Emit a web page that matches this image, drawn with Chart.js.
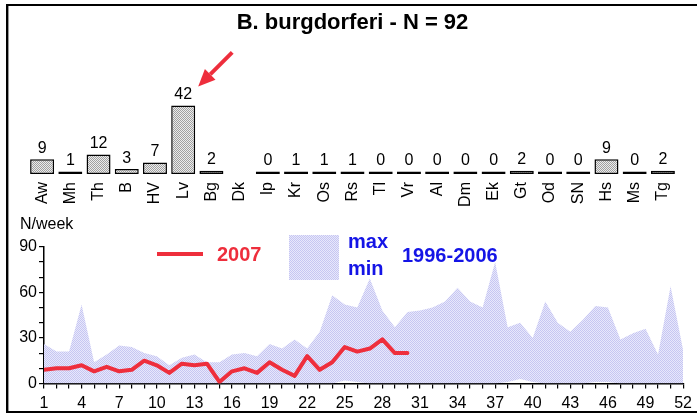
<!DOCTYPE html>
<html>
<head>
<meta charset="utf-8">
<script src="https://cdn.jsdelivr.net/npm/chart.js@4"></script>
<style>
  body { margin: 0; background: #fff; }
  #wrap { position: relative; width: 697px; height: 414px; overflow: hidden; }
  #frame {
    position: absolute; left: 6px; top: 4px; width: 700px; height: 405px;
    border-top: 2px solid #000; border-bottom: 2px solid #000;
    border-left: 2px solid #000; box-shadow: 1px 0 0 #999 inset;
  }
  canvas { position: absolute; left: 0; }
</style>
</head>
<body>
<div id="wrap">
  <div id="frame"></div>
  <canvas id="stationChart" width="697" height="210" style="top:0"></canvas>
  <canvas id="weekChart" width="697" height="204" style="top:210px"></canvas>
</div>
<script>
// cases per sampling site (Dk not sampled)
const stations = ['Aw','Mh','Th','B','HV','Lv','Bg','Dk','Ip','Kr','Os','Rs','Tl','Vr','Al','Dm','Ek','Gt','Od','SN','Hs','Ms','Tg'];
const cases = [9, 1, 12, 3, 7, 42, 2, null, 0, 1, 1, 1, 0, 0, 0, 0, 0, 2, 0, 0, 9, 0, 2];

// weekly counts
const weeks = [1,2,3,4,5,6,7,8,9,10,11,12,13,14,15,16,17,18,19,20,21,22,23,24,25,26,
               27,28,29,30,31,32,33,34,35,36,37,38,39,40,41,42,43,44,45,46,47,48,49,50,51,52];
const weekly2007 = [9,10,10,12,8,11,8,9,15,12,7,13,12,13,1,8,10,7,14,9,5,18,9,14,24,21,23,29,20,20];
const bandMax = [26,21,21,52,14,19,25,24,20,18,12,17,19,14,14,19,20,18,26,23,29,23,34,58,52,50,
                 69,48,37,47,48,50,54,63,54,50,80,37,40,30,54,40,34,42,51,50,29,33,36,19,64,22];
const bandMin = [0,0,0,0,0,0,0,0,0,0,0,0,0,0,0,0,0,0,0,0,0,0,0,0,2,1,
                 0,0,0,0,0,0,0,0,0,0,0,1,3,1,0,0,0,0,1,1,0,0,0,0,0,0];

const red = '#ee2e3c';
const blue = '#1414e6';
Chart.defaults.font.family = '"Liberation Sans", Arial, Helvetica, sans-serif';
Chart.defaults.color = '#000';

// fine two-tone stipple used for the fills
function stipple(light, dark) {
  const c = document.createElement('canvas');
  c.width = c.height = 2;
  const g = c.getContext('2d');
  g.fillStyle = light; g.fillRect(0, 0, 2, 2);
  g.fillStyle = dark; g.fillRect(0, 0, 1, 1); g.fillRect(1, 1, 1, 1);
  return g.createPattern(c, 'repeat');
}
const greyFill = stipple('#ececec', '#a0a0a0');
const lavFill = stipple('#e8e8fb', '#c6c6f2');

const total = cases.reduce((s, v) => s + (v || 0), 0);

const barLabels = {
  id: 'barLabels',
  afterDatasetsDraw(chart) {
    const ctx = chart.ctx;
    const meta = chart.getDatasetMeta(0);
    ctx.save();
    ctx.font = '16px "Liberation Sans", Arial, sans-serif';
    ctx.fillStyle = '#000';
    ctx.textAlign = 'center';
    ctx.textBaseline = 'bottom';
    meta.data.forEach((bar, i) => {
      if (cases[i] == null) return;
      ctx.fillText(String(cases[i]), bar.x, Math.min(bar.y, bar.base) - 3);
    });

    // arrow pointing at the largest bar
    const top = meta.data[cases.indexOf(Math.max(...cases))];
    const tipX = top.x + 15, tipY = top.y - 19;
    const tailX = top.x + 49, tailY = top.y - 53;
    const ang = Math.atan2(tipY - tailY, tipX - tailX);
    const headLen = 17, headHalf = 7.5;
    const bx = tipX - headLen * Math.cos(ang), by = tipY - headLen * Math.sin(ang);
    ctx.strokeStyle = red;
    ctx.fillStyle = red;
    ctx.lineWidth = 4;
    ctx.beginPath();
    ctx.moveTo(tailX, tailY);
    ctx.lineTo(bx, by);
    ctx.stroke();
    ctx.beginPath();
    ctx.moveTo(tipX, tipY);
    ctx.lineTo(bx + headHalf * Math.sin(ang), by - headHalf * Math.cos(ang));
    ctx.lineTo(bx - headHalf * Math.sin(ang), by + headHalf * Math.cos(ang));
    ctx.closePath();
    ctx.fill();
    ctx.restore();
  }
};

new Chart(document.getElementById('stationChart'), {
  type: 'bar',
  data: {
    labels: stations,
    datasets: [{
      data: cases,
      backgroundColor: greyFill,
      borderColor: '#000',
      borderWidth: 1.5,
      borderSkipped: false,
      minBarLength: 2.5,
      barPercentage: 0.85,
      categoryPercentage: 1
    }]
  },
  options: {
    responsive: false,
    animation: false,
    layout: { padding: { left: 28, right: 20, top: 0, bottom: 0 } },
    plugins: {
      legend: { display: false },
      tooltip: { enabled: false },
      title: {
        display: true,
        text: 'B. burgdorferi - N = ' + total,
        color: '#000',
        font: { size: 22, weight: 'bold' },
        padding: { top: 10, bottom: 7 }
      }
    },
    scales: {
      x: {
        grid: { display: false },
        border: { display: false },
        ticks: { minRotation: 90, maxRotation: 90, autoSkip: false, padding: 0, font: { size: 16 } },
        afterFit(s) { s.height = 36; }
      },
      y: { display: false, min: 0, max: 80 }
    }
  },
  plugins: [barLabels]
});

const weekLegend = {
  id: 'weekLegend',
  afterDraw(chart) {
    const ctx = chart.ctx;
    ctx.save();
    ctx.textBaseline = 'middle';
    ctx.font = '16px "Liberation Sans", Arial, sans-serif';
    ctx.fillStyle = '#000';
    ctx.fillText('N/week', 20, 15);

    ctx.strokeStyle = red;
    ctx.lineWidth = 4;
    ctx.beginPath();
    ctx.moveTo(157, 44);
    ctx.lineTo(203, 44);
    ctx.stroke();
    ctx.font = 'bold 20px "Liberation Sans", Arial, sans-serif';
    ctx.fillStyle = red;
    ctx.fillText('2007', 217, 45);

    ctx.fillStyle = lavFill;
    ctx.fillRect(289, 25, 50, 45);
    ctx.fillStyle = blue;
    ctx.fillText('max', 348, 32);
    ctx.fillText('min', 348, 59);
    ctx.fillText('1996-2006', 402, 46);
    ctx.restore();
  }
};

const pts = (ys) => ys.map((y, i) => ({ x: weeks[i], y: y }));

new Chart(document.getElementById('weekChart'), {
  type: 'line',
  data: {
    datasets: [
      { label: '2007', data: pts(weekly2007), borderColor: red, borderWidth: 4,
        pointRadius: 0, fill: false, tension: 0, borderJoinStyle: 'round', borderCapStyle: 'round' },
      { label: 'min', data: pts(bandMin), borderWidth: 0, pointRadius: 0, fill: false },
      { label: 'max', data: pts(bandMax), borderWidth: 0, pointRadius: 0, fill: 1,
        backgroundColor: lavFill }
    ]
  },
  options: {
    responsive: false,
    animation: false,
    layout: { padding: { left: 0, right: 11, top: 36.7, bottom: 0 } },
    plugins: { legend: { display: false }, tooltip: { enabled: false } },
    scales: {
      x: {
        type: 'linear', min: 1, max: 52,
        grid: { drawOnChartArea: false, tickLength: 5, color: '#000', lineWidth: 1.2 },
        border: { color: '#000', width: 1.5 },
        ticks: {
          stepSize: 1, autoSkip: false, maxRotation: 0, padding: 5,
          font: { size: 16 },
          callback: (v) => ((v - 1) % 3 === 0 ? v : '')
        },
        afterFit(s) { s.height = 30.5; }
      },
      y: {
        min: 0, max: 90,
        grid: { drawOnChartArea: false, tickLength: 5, color: '#000', lineWidth: 1.2 },
        border: { color: '#000', width: 1.5 },
        ticks: {
          stepSize: 10, autoSkip: false, padding: 2,
          font: { size: 16 },
          callback: (v) => (v % 30 === 0 ? v : '')
        },
        afterFit(s) { s.width = 44; }
      }
    }
  },
  plugins: [weekLegend]
});
</script>
</body>
</html>
